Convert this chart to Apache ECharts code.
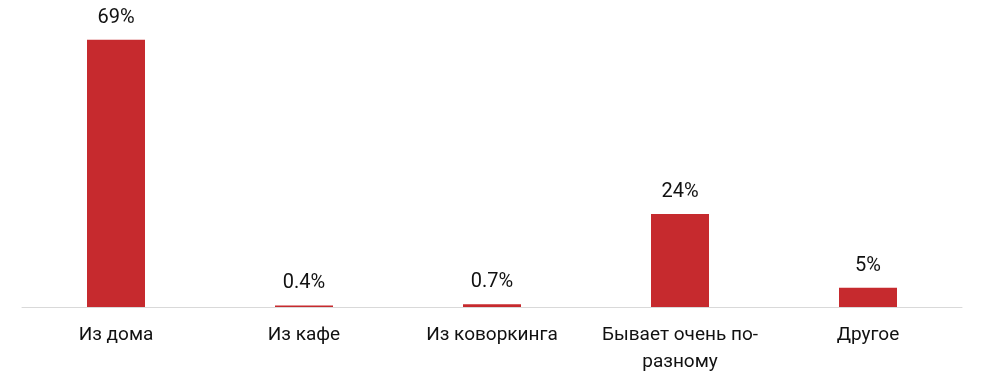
<!DOCTYPE html>
<html>
<head>
<meta charset="utf-8">
<script src="https://cdn.jsdelivr.net/npm/echarts@6/dist/echarts.min.js"></script>
<style>
html,body{margin:0;padding:0;background:#fff;}
#chart{width:984px;height:380px;}
</style>
</head>
<body>
<div id="chart"></div>
<script>
var categories = ["Из дома", "Из кафе", "Из коворкинга", "Бывает очень по-\nразному", "Другое"];
var values = [69, 0.4, 0.7, 24, 5];
var valueLabels = ["69%", "0.4%", "0.7%", "24%", "5%"];

var chart = echarts.init(document.getElementById('chart'), null, {renderer: 'canvas'});
chart.setOption({
  animation: false,
  backgroundColor: '#ffffff',
  grid: {left: 22, right: 22, top: 36, bottom: 73, containLabel: false},
  xAxis: {
    type: 'category',
    data: categories,
    z: 5,
    axisLine: {show: true, lineStyle: {color: '#d9d9d9', width: 1}},
    axisTick: {show: false},
    axisLabel: {
      interval: 0,
      margin: 15,
      color: '#111111',
      fontFamily: 'Roboto',
      fontSize: 19,
      lineHeight: 27
    }
  },
  yAxis: {
    type: 'value',
    min: 0,
    max: 70,
    show: false,
    splitLine: {show: false}
  },
  series: [{
    type: 'bar',
    data: values,
    barWidth: 58,
    itemStyle: {color: '#c62a2e'},
    label: {
      show: true,
      position: 'top',
      distance: 12,
      color: '#111111',
      fontFamily: 'Roboto',
      fontSize: 20,
      formatter: function (p) { return valueLabels[p.dataIndex]; }
    }
  }]
});
</script>
</body>
</html>
